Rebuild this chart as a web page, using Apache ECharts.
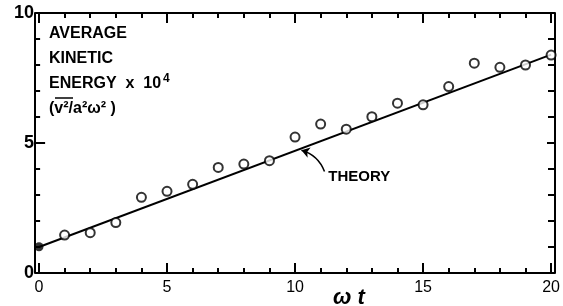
<!DOCTYPE html>
<html><head><meta charset="utf-8">
<script src="https://cdn.jsdelivr.net/npm/echarts@6/dist/echarts.min.js"></script>
<style>html,body{margin:0;padding:0;background:#fff}#c{width:563px;height:306px}</style>
</head><body><div id="c"></div>
<script>
const wt = [0,1,2,3,4,5,6,7,8,9,10,11,12,13,14,15,16,17,18,19,20];
const measured = [1.01,1.46,1.55,1.94,2.91,3.14,3.41,4.06,4.19,4.32,5.23,5.73,5.53,6.01,6.53,6.47,7.17,8.07,7.91,8.0,8.38];
const theoryX = [0,20];
const theoryY = [1.0,8.4];
const xTickLabels = ['0','5','10','15','20'];
const yTickLabels = ['0','5','10'];
const arrowFrom = [11.15,3.9];
const arrowTo = [10.25,4.72];
const theoryLabelPos = [11.3,3.7];

const W = 563, H = 306;
const G = {left:39, right:8, top:13, bottom:33};
const GW = W - G.left - G.right, GH = H - G.top - G.bottom;
const chart = echarts.init(document.getElementById('c'));
const FONT = 'Liberation Sans, Arial, sans-serif';
const BLACK = '#000';
// Axes are placed on the opposite side and shifted across the grid, so their
// "outside" ticks point into the plot and "inside" labels sit outside it.
function axis(position, offset, max, major, minor, labels, labelStyle){
  return {
    type:'value', min:0, max:max, interval:5, position:position, offset:offset,
    axisLine:{show:true, onZero:false, lineStyle:{color:BLACK,width:2}},
    axisTick:{show:true, inside:false, length:major, lineStyle:{color:BLACK,width:2}},
    minorTick:{show:true, splitNumber:5, length:minor, lineStyle:{color:BLACK,width:2}},
    splitLine:{show:false}, minorSplitLine:{show:false},
    axisLabel: labels ? Object.assign({show:true, inside:true, color:BLACK, fontFamily:FONT,
      formatter:v=>labels[v/5]}, labelStyle) : {show:false}
  };
}
const textBlock = '{a|AVERAGE}\n{a|KINETIC}\n{a|ENERGY  x  10}{s|4}\n{a|(v\u00B2/a\u00B2\u03C9\u00B2 )}';
chart.setOption({
  animation:false,
  grid:G,
  xAxis:[
    axis('top', -GH, 20, 10, 5, xTickLabels, {fontSize:16, margin:7}),
    axis('bottom', -GH, 20, 10, 5, null)
  ],
  yAxis:[
    axis('right', -GW, 10, 10, 5, yTickLabels, {fontSize:18, fontWeight:'bold', margin:1}),
    axis('left', -GW, 10, 8, 7, null)
  ],
  series:[
    {type:'line', data:theoryX.map((x,i)=>[x,theoryY[i]]), symbol:'none',
      lineStyle:{color:BLACK,width:2}, z:3},
    {type:'scatter', data:wt.map((x,i)=>[x,measured[i]]).slice(1), symbol:'circle', symbolSize:9,
      itemStyle:{color:'#fff',borderColor:BLACK,borderWidth:2}, z:4},
    {type:'scatter', data:[[wt[0],measured[0]]], symbol:'circle', symbolSize:9,
      itemStyle:{color:BLACK}, z:5},
    {type:'lines', coordinateSystem:'cartesian2d', polyline:false,
      data:[{coords:[arrowFrom,arrowTo]}], symbol:['none','arrow'], symbolSize:8,
      lineStyle:{color:BLACK,width:1.5,curveness:-0.25,opacity:1}, z:6}
  ]
});
const p = chart.convertToPixel({gridIndex:0}, theoryLabelPos);
chart.setOption({graphic:[
  {type:'text', left:49, top:26, style:{
      text:textBlock,
      rich:{a:{font:'bold 16px '+FONT, fill:BLACK, lineHeight:25, verticalAlign:'bottom'},
            s:{font:'bold 12px '+FONT, fill:BLACK, lineHeight:25, verticalAlign:'bottom', padding:[0,0,7,2]}},
      fill:BLACK}},
  {type:'line', shape:{x1:55, y1:98, x2:73, y2:98}, style:{stroke:BLACK, lineWidth:1.5}},
  {type:'text', left:333, top:287, style:{text:'\u03C9 t', font:'italic bold 22px '+FONT, fill:BLACK}},
  {type:'text', x:p[0], y:p[1], style:{text:'THEORY', font:'bold 15px '+FONT, fill:BLACK, textVerticalAlign:'middle'}}
]});
</script></body></html>
